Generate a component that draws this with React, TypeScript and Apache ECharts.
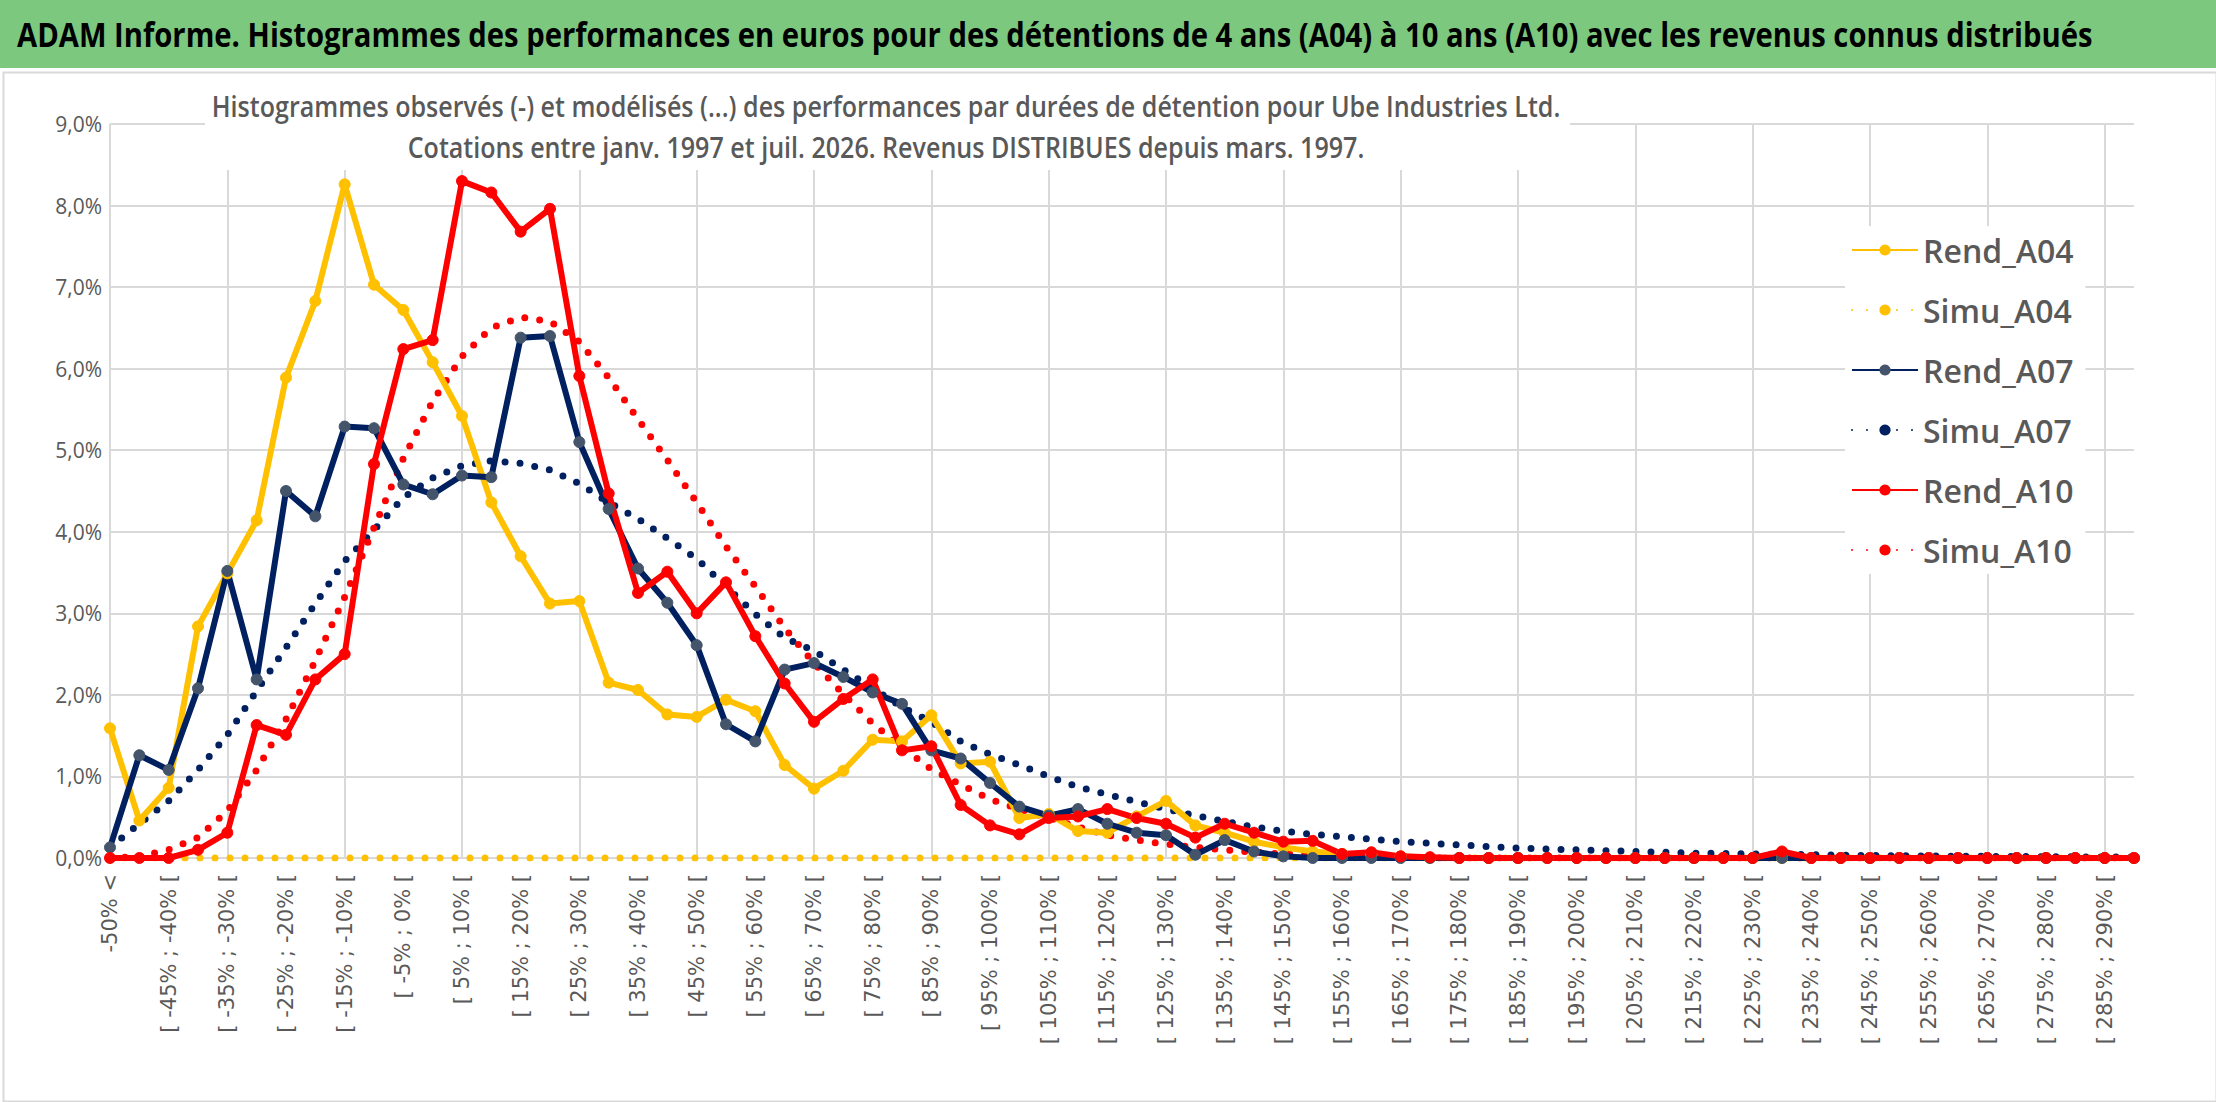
import React, { useEffect, useRef } from "react";
import * as echarts from "echarts";

const categories: string[] = ["-50% <"];
for (let i = 1; i <= 69; i++) categories.push(`[ ${-55 + 5 * i}% ; ${-50 + 5 * i}% [`);

const rendA04 = [1.59, 0.46, 0.86, 2.84, 3.49, 4.14, 5.89, 6.83, 8.26, 7.03, 6.72, 6.08, 5.42, 4.36, 3.7, 3.12, 3.15, 2.15, 2.06, 1.76, 1.73, 1.94, 1.8, 1.14, 0.85, 1.07, 1.45, 1.43, 1.75, 1.16, 1.18, 0.49, 0.54, 0.33, 0.31, 0.51, 0.7, 0.4, 0.31, 0.2, 0.13, 0.08, 0.05, 0.04, 0.02, 0, 0, 0, 0, 0, 0, 0, 0, 0, 0, 0, 0, 0, 0, 0, 0, 0, 0, 0, 0, 0, 0, 0, 0, 0];
const simuA04 = new Array(70).fill(0);
const rendA07 = [0.13, 1.26, 1.08, 2.08, 3.52, 2.19, 4.5, 4.19, 5.29, 5.27, 4.58, 4.46, 4.69, 4.67, 6.38, 6.4, 5.1, 4.28, 3.55, 3.13, 2.61, 1.64, 1.43, 2.31, 2.39, 2.22, 2.03, 1.89, 1.32, 1.22, 0.92, 0.63, 0.52, 0.6, 0.42, 0.31, 0.28, 0.04, 0.22, 0.08, 0.02, 0, 0, 0, 0, 0, 0, 0, 0, 0, 0, 0, 0, 0, 0, 0, 0, 0, 0, 0, 0, 0, 0, 0, 0, 0, 0, 0, 0, 0];
const simuA07 = [0.13, 0.42, 0.7, 1.08, 1.51, 2.05, 2.58, 3.12, 3.64, 4.02, 4.42, 4.66, 4.81, 4.87, 4.84, 4.76, 4.59, 4.36, 4.16, 3.92, 3.67, 3.33, 2.99, 2.7, 2.54, 2.31, 2.08, 1.85, 1.67, 1.43, 1.27, 1.14, 1.0, 0.87, 0.78, 0.69, 0.6, 0.52, 0.45, 0.38, 0.33, 0.29, 0.26, 0.23, 0.2, 0.18, 0.16, 0.14, 0.12, 0.11, 0.1, 0.09, 0.08, 0.07, 0.06, 0.055, 0.05, 0.045, 0.04, 0.035, 0.03, 0.028, 0.025, 0.022, 0.02, 0.018, 0.016, 0.014, 0.012, 0.011];
const rendA10 = [0, 0, 0, 0.1, 0.31, 1.63, 1.51, 2.19, 2.5, 4.83, 6.24, 6.35, 8.3, 8.16, 7.68, 7.96, 5.91, 4.47, 3.25, 3.51, 3.0, 3.38, 2.72, 2.14, 1.67, 1.95, 2.19, 1.32, 1.37, 0.65, 0.4, 0.29, 0.49, 0.51, 0.6, 0.49, 0.42, 0.25, 0.42, 0.31, 0.2, 0.21, 0.05, 0.07, 0.02, 0.01, 0, 0, 0, 0, 0, 0, 0, 0, 0, 0, 0, 0.08, 0, 0, 0, 0, 0, 0, 0, 0, 0, 0, 0, 0];
const simuA10 = [0, 0.02, 0.1, 0.25, 0.58, 1.08, 1.7, 2.42, 3.2, 4.05, 4.9, 5.6, 6.15, 6.5, 6.63, 6.58, 6.33, 5.89, 5.38, 4.88, 4.36, 3.82, 3.33, 2.82, 2.39, 2.01, 1.65, 1.36, 1.09, 0.9, 0.72, 0.6, 0.49, 0.38, 0.28, 0.22, 0.17, 0.13, 0.1, 0.07, 0.05, 0.04, 0.03, 0.02, 0.01, 0, 0, 0, 0, 0, 0, 0, 0, 0, 0, 0, 0, 0, 0, 0, 0, 0, 0, 0, 0, 0, 0, 0, 0, 0];

const YELLOW = "#FFC000";
const NAVY = "#002060";
const RED = "#FF0000";
const FONT = "'Open Sans', sans-serif";

function rend(name: string, data: number[], color: string, markerColor: string) {
  return {
    name, type: "line", data, symbol: "circle", symbolSize: 11, showSymbol: true,
    lineStyle: { color, width: 6 }, itemStyle: { color: markerColor, borderColor: markerColor },
  };
}
function simu(name: string, data: number[], color: string) {
  return {
    name, type: "line", data, symbol: "none",
    lineStyle: { color, width: 7, type: [0, 15], cap: "round" }, itemStyle: { color },
  };
}

export default function App() {
  const ref = useRef<HTMLDivElement>(null);
  useEffect(() => {
    const chart = echarts.init(ref.current!, null, { renderer: "svg" });
    chart.setOption({
      animation: false,
      backgroundColor: "#ffffff",
      graphic: [
        { type: "rect", left: 0, top: 0, shape: { width: 2216, height: 68 }, style: { fill: "#7DC87F" }, z: -1 },
        { type: "rect", left: 1, top: 70, shape: { width: 2213, height: 1029 }, style: { fill: "none", stroke: "#d9d9d9", lineWidth: 2 }, z: -1 },
        {
          type: "text", x: 17, y: 34, scaleX: 0.86,
          style: {
            text: "ADAM Informe. Histogrammes des performances en euros pour des détentions de 4 ans (A04) à 10 ans (A10) avec les revenus connus distribués",
            font: `bold 34px ${FONT}`, fill: "#000000", verticalAlign: "middle",
          },
        },
        { type: "rect", x: 205, y: 84, shape: { width: 1365, height: 86 }, style: { fill: "#ffffff" }, z: 10 },
        {
          type: "text", x: 886, y: 106, scaleX: 0.88, z: 11,
          style: {
            text: "Histogrammes observés (-) et modélisés (...) des performances par durées de détention pour Ube Industries Ltd.",
            font: `600 28.5px ${FONT}`, fill: "#595959", align: "center", verticalAlign: "middle",
          },
        },
        {
          type: "text", x: 886, y: 147, scaleX: 0.88, z: 11,
          style: {
            text: "Cotations entre janv. 1997 et juil. 2026. Revenus DISTRIBUES depuis mars. 1997.",
            font: `600 28.5px ${FONT}`, fill: "#595959", align: "center", verticalAlign: "middle",
          },
        },
      ],
      legend: {
        orient: "vertical", left: 1845, top: 226, itemGap: 28, itemWidth: 66, itemHeight: 14,
        backgroundColor: "#ffffff", padding: [8, 12, 8, 6],
        textStyle: { fontSize: 32, color: "#595959", fontWeight: 600, fontFamily: FONT },
        data: ["Rend_A04", "Simu_A04", "Rend_A07", "Simu_A07", "Rend_A10", "Simu_A10"],
      },
      grid: { left: 110, right: 82, top: 124, bottom: 244, containLabel: false },
      xAxis: {
        type: "category", data: categories, boundaryGap: false,
        axisLine: { lineStyle: { color: "#d9d9d9", width: 2 } }, axisTick: { show: false },
        axisLabel: { interval: 1, rotate: 90, fontSize: 21, color: "#595959", fontFamily: "'DejaVu Sans', sans-serif", margin: 16 },
        splitLine: { show: true, interval: 3, lineStyle: { color: "#d9d9d9", width: 2 } },
      },
      yAxis: {
        type: "value", min: 0, max: 9, interval: 1,
        axisLine: { show: false }, axisTick: { show: false },
        axisLabel: { fontSize: 21, color: "#595959", fontFamily: FONT, formatter: (v: number) => v.toFixed(1).replace(".", ",") + "%" },
        splitLine: { lineStyle: { color: "#d9d9d9", width: 2 } },
      },
      series: [
        simu("Simu_A04", simuA04, YELLOW),
        simu("Simu_A07", simuA07, NAVY),
        simu("Simu_A10", simuA10, RED),
        rend("Rend_A04", rendA04, YELLOW, YELLOW),
        rend("Rend_A07", rendA07, NAVY, "#44546A"),
        rend("Rend_A10", rendA10, RED, RED),
      ],
    });
    return () => chart.dispose();
  }, []);
  return <div ref={ref} style={{ position: "absolute", left: 0, top: 0, width: 2216, height: 1102 }} />;
}
